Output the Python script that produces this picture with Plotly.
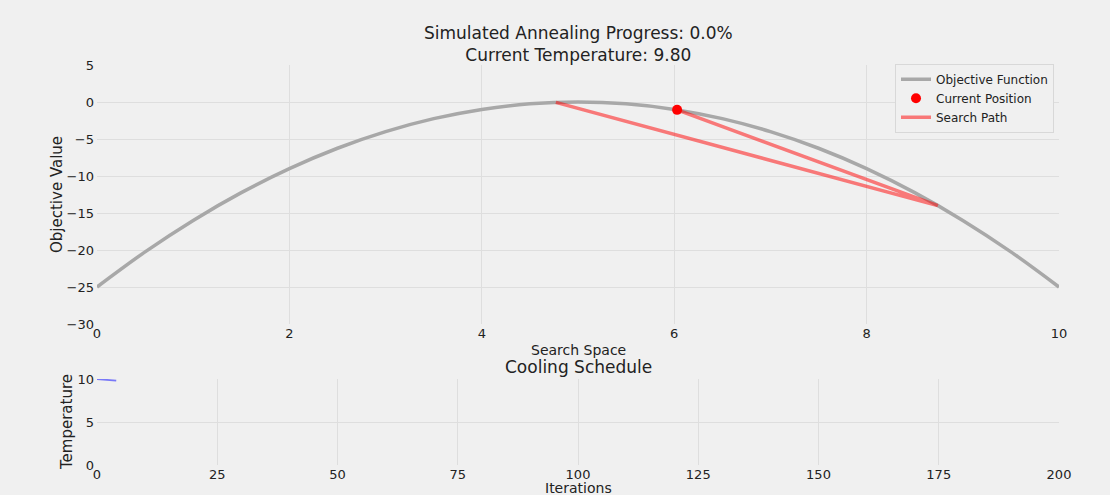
import plotly.graph_objects as go

# Objective function samples
obj_x = [0, 0.5, 1, 1.5, 2, 2.5, 3, 3.5, 4, 4.5, 5, 5.5, 6, 6.5, 7, 7.5, 8, 8.5, 9, 9.5, 10]
obj_y = [-25, -20.25, -16, -12.25, -9, -6.25, -4, -2.25, -1, -0.25, 0, -0.25, -1, -2.25, -4, -6.25, -9, -12.25, -16, -20.25, -25]

# Search path
path_x = [4.77, 8.74, 6.03]
path_y = [-0.05, -14.0, -1.06]

# Current position
cur_x = [6.03]
cur_y = [-1.06]

# Cooling schedule
iters = [0, 1, 2, 3, 4]
temps = [10.0, 9.95, 9.90, 9.85, 9.80]

progress = "0.0%"
cur_temp = "9.80"

FONT = "DejaVu Sans"
BG = "#f0f0f0"
GRID = "#dedede"
TXT = "#222222"

fig = go.Figure()
fig.add_trace(go.Scatter(x=obj_x, y=obj_y, mode="lines", line=dict(color="#a8a8a8", width=3.5, shape="spline"),
                         name="Objective Function", xaxis="x", yaxis="y"))
fig.add_trace(go.Scatter(x=cur_x, y=cur_y, mode="markers", marker=dict(color="red", size=10),
                         name="Current Position", xaxis="x", yaxis="y"))
fig.add_trace(go.Scatter(x=path_x, y=path_y, mode="lines", line=dict(color="rgba(255,0,0,0.5)", width=3.5),
                         name="Search Path", xaxis="x", yaxis="y"))
fig.add_trace(go.Scatter(x=iters, y=temps, mode="lines", line=dict(color="rgba(0,0,255,0.5)", width=1.8),
                         showlegend=False, xaxis="x2", yaxis="y2"))

axis_common = dict(showline=False, zeroline=False, gridcolor=GRID, gridwidth=1, automargin=False,
                   tickfont=dict(family=FONT, size=13, color=TXT), ticks="")

H = 400.0  # plot area height in px (495 - 65 - 30)
def py(pix):
    return (465 - pix) / H

fig.update_layout(
    width=1110, height=495,
    paper_bgcolor=BG, plot_bgcolor=BG,
    margin=dict(l=97, r=51, t=65, b=30),
    font=dict(family=FONT, color=TXT),
    xaxis=dict(domain=[0, 1], range=[0, 10], tickvals=[0, 2, 4, 6, 8, 10], anchor="y",
               ticklabelstandoff=0, **axis_common),
    yaxis=dict(domain=[py(324), 1], range=[-30, 5], tickvals=[-30, -25, -20, -15, -10, -5, 0, 5], anchor="x",
               ticklabelstandoff=2, **axis_common),
    xaxis2=dict(domain=[0, 1], range=[0, 200], tickvals=[0, 25, 50, 75, 100, 125, 150, 175, 200], anchor="y2",
                ticklabelstandoff=0, **axis_common),
    yaxis2=dict(domain=[0, py(379)], range=[0, 10], tickvals=[0, 5, 10], anchor="x2",
                ticklabelstandoff=2, **axis_common),
    legend=dict(x=0.9948, y=1.003, xanchor="right", yanchor="top", bgcolor=BG, bordercolor="#d8d8d8", borderwidth=1,
                font=dict(family=FONT, size=12, color=TXT), tracegroupgap=0, itemwidth=30),
    annotations=[
        dict(text=f"Simulated Annealing Progress: {progress}<br>Current Temperature: {cur_temp}",
             x=0.5, xref="paper", y=1.0, yref="paper", yanchor="bottom", yshift=-2,
             showarrow=False, font=dict(family=FONT, size=17, color=TXT)),
        dict(text="Cooling Schedule", x=0.5, xref="paper", y=py(366.5), yref="paper", yanchor="middle",
             showarrow=False, font=dict(family=FONT, size=17, color=TXT)),
        dict(text="Search Space", x=0.5, xref="paper", y=py(350), yref="paper", yanchor="middle",
             showarrow=False, font=dict(family=FONT, size=14, color=TXT)),
        dict(text="Iterations", x=0.5, xref="paper", y=py(488), yref="paper", yanchor="middle",
             showarrow=False, font=dict(family=FONT, size=14, color=TXT)),
        dict(text="Objective Value", x=(57 - 97) / 962.0, xref="paper", y=py(195), yref="paper",
             xanchor="center", yanchor="middle", textangle=-90,
             showarrow=False, font=dict(family=FONT, size=15, color=TXT)),
        dict(text="Temperature", x=(67 - 97) / 962.0, xref="paper", y=py(422), yref="paper",
             xanchor="center", yanchor="middle", textangle=-90,
             showarrow=False, font=dict(family=FONT, size=15, color=TXT)),
    ],
)

fig.write_html("out.html", config={"displayModeBar": False},
               post_script="document.body.style.margin='0';document.body.style.padding='0';")
